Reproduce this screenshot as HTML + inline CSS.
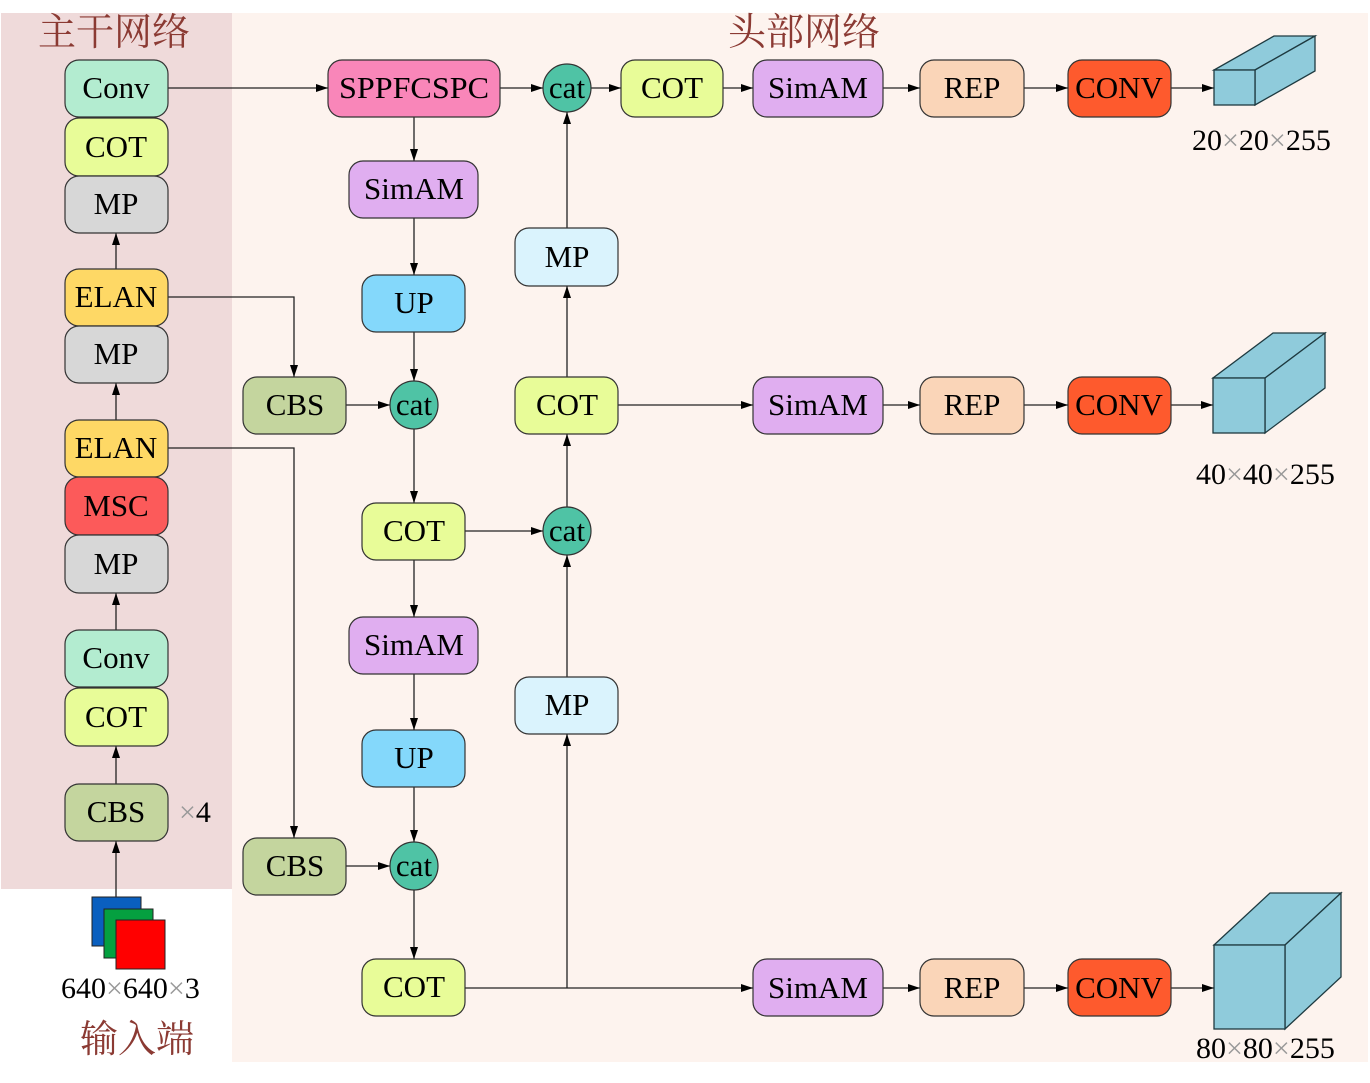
<!DOCTYPE html>
<html><head><meta charset="utf-8">
<style>
html,body{margin:0;padding:0;background:#fff;}
svg{display:block;}
</style></head>
<body>
<svg width="1370" height="1083" viewBox="0 0 1370 1083" xmlns="http://www.w3.org/2000/svg" font-family="'Liberation Serif', 'Times New Roman', serif">
<defs>
<marker id="a" viewBox="0 0 12 8" refX="12" refY="4" markerWidth="12" markerHeight="8" markerUnits="userSpaceOnUse" orient="auto">
<path d="M0,0 L12,4 L0,8 z" fill="#000"/>
</marker>
</defs>
<rect x="0" y="0" width="1370" height="1083" fill="#fff"/>
<rect x="232" y="13" width="1136" height="1049" fill="#fdf3ee"/>
<rect x="1" y="13" width="231" height="876" fill="#efdada"/>

<g font-size="38" fill="#8b3a33" font-family="'Noto Serif CJK SC', 'Noto Sans CJK SC', serif">
<text x="38" y="45">主干网络</text>
<text x="728" y="45">头部网络</text>
<text x="80" y="1052">输入端</text>
</g>

<g stroke="#222" stroke-width="1.3" fill="none">
<line x1="168" y1="88" x2="328" y2="88" marker-end="url(#a)"/>
<line x1="500" y1="88" x2="543" y2="88" marker-end="url(#a)"/>
<line x1="591" y1="88" x2="621" y2="88" marker-end="url(#a)"/>
<line x1="723" y1="88" x2="753" y2="88" marker-end="url(#a)"/>
<line x1="883" y1="88" x2="920" y2="88" marker-end="url(#a)"/>
<line x1="1024" y1="88" x2="1068" y2="88" marker-end="url(#a)"/>
<line x1="1171" y1="88" x2="1214" y2="88" marker-end="url(#a)"/>
<line x1="414" y1="117" x2="414" y2="161" marker-end="url(#a)"/>
<line x1="414" y1="218" x2="414" y2="275" marker-end="url(#a)"/>
<line x1="414" y1="332" x2="414" y2="381" marker-end="url(#a)"/>
<polyline points="168,297 294,297 294,377" marker-end="url(#a)"/>
<line x1="346" y1="405" x2="390" y2="405" marker-end="url(#a)"/>
<line x1="414" y1="429" x2="414" y2="503" marker-end="url(#a)"/>
<line x1="465" y1="531" x2="543" y2="531" marker-end="url(#a)"/>
<line x1="414" y1="560" x2="414" y2="617" marker-end="url(#a)"/>
<line x1="414" y1="674" x2="414" y2="730" marker-end="url(#a)"/>
<line x1="414" y1="787" x2="414" y2="842" marker-end="url(#a)"/>
<polyline points="168,448 294,448 294,838" marker-end="url(#a)"/>
<line x1="346" y1="866" x2="390" y2="866" marker-end="url(#a)"/>
<line x1="414" y1="890" x2="414" y2="959" marker-end="url(#a)"/>
<line x1="465" y1="988" x2="753" y2="988" marker-end="url(#a)"/>
<line x1="567" y1="988" x2="567" y2="734" marker-end="url(#a)"/>
<line x1="567" y1="677" x2="567" y2="555" marker-end="url(#a)"/>
<line x1="567" y1="507" x2="567" y2="434" marker-end="url(#a)"/>
<line x1="567" y1="377" x2="567" y2="286" marker-end="url(#a)"/>
<line x1="567" y1="228" x2="567" y2="112" marker-end="url(#a)"/>
<line x1="618" y1="405" x2="753" y2="405" marker-end="url(#a)"/>
<line x1="883" y1="405" x2="920" y2="405" marker-end="url(#a)"/>
<line x1="1024" y1="405" x2="1068" y2="405" marker-end="url(#a)"/>
<line x1="1171" y1="405" x2="1213" y2="405" marker-end="url(#a)"/>
<line x1="883" y1="988" x2="920" y2="988" marker-end="url(#a)"/>
<line x1="1024" y1="988" x2="1068" y2="988" marker-end="url(#a)"/>
<line x1="1171" y1="988" x2="1214" y2="988" marker-end="url(#a)"/>
<line x1="116" y1="897" x2="116" y2="841" marker-end="url(#a)"/>
<line x1="116" y1="784" x2="116" y2="746" marker-end="url(#a)"/>
<line x1="116" y1="630" x2="116" y2="593" marker-end="url(#a)"/>
<line x1="116" y1="420" x2="116" y2="383" marker-end="url(#a)"/>
<line x1="116" y1="269" x2="116" y2="233" marker-end="url(#a)"/>
</g>

<g stroke="#333" stroke-width="1.2">
<rect x="65" y="60" width="103" height="57" rx="14" fill="#b3ecd0"/>
<rect x="65" y="118" width="103" height="58" rx="14" fill="#e8fc98"/>
<rect x="65" y="176" width="103" height="57" rx="14" fill="#d7d7d7"/>
<rect x="65" y="269" width="103" height="57" rx="14" fill="#fed865"/>
<rect x="65" y="326" width="103" height="57" rx="14" fill="#d7d7d7"/>
<rect x="65" y="420" width="103" height="57" rx="14" fill="#fed865"/>
<rect x="65" y="477" width="103" height="58" rx="14" fill="#fc5a5a"/>
<rect x="65" y="535" width="103" height="58" rx="14" fill="#d7d7d7"/>
<rect x="65" y="630" width="103" height="57" rx="14" fill="#b3ecd0"/>
<rect x="65" y="688" width="103" height="58" rx="14" fill="#e8fc98"/>
<rect x="65" y="784" width="103" height="57" rx="14" fill="#c4d59e"/>
<rect x="328" y="60" width="172" height="57" rx="14" fill="#f986b9"/>
<rect x="349" y="161" width="129" height="57" rx="14" fill="#e0aef0"/>
<rect x="362" y="275" width="103" height="57" rx="14" fill="#84d8fb"/>
<rect x="243" y="377" width="103" height="57" rx="14" fill="#c4d59e"/>
<rect x="362" y="503" width="103" height="57" rx="14" fill="#e8fc98"/>
<rect x="349" y="617" width="129" height="57" rx="14" fill="#e0aef0"/>
<rect x="362" y="730" width="103" height="57" rx="14" fill="#84d8fb"/>
<rect x="243" y="838" width="103" height="57" rx="14" fill="#c4d59e"/>
<rect x="362" y="959" width="103" height="57" rx="14" fill="#e8fc98"/>
<rect x="515" y="228" width="103" height="58" rx="14" fill="#daf3fd"/>
<rect x="515" y="377" width="103" height="57" rx="14" fill="#e8fc98"/>
<rect x="515" y="677" width="103" height="57" rx="14" fill="#daf3fd"/>
<rect x="621" y="60" width="102" height="57" rx="14" fill="#e8fc98"/>
<rect x="753" y="60" width="130" height="57" rx="14" fill="#e0aef0"/>
<rect x="920" y="60" width="104" height="57" rx="14" fill="#fad5b8"/>
<rect x="1068" y="60" width="103" height="57" rx="14" fill="#fe5a2d"/>
<rect x="753" y="377" width="130" height="57" rx="14" fill="#e0aef0"/>
<rect x="920" y="377" width="104" height="57" rx="14" fill="#fad5b8"/>
<rect x="1068" y="377" width="103" height="57" rx="14" fill="#fe5a2d"/>
<rect x="753" y="959" width="130" height="57" rx="14" fill="#e0aef0"/>
<rect x="920" y="959" width="104" height="57" rx="14" fill="#fad5b8"/>
<rect x="1068" y="959" width="103" height="57" rx="14" fill="#fe5a2d"/>
<circle cx="567" cy="88" r="24" fill="#4fc3a5"/>
<circle cx="414" cy="405" r="24" fill="#4fc3a5"/>
<circle cx="567" cy="531" r="24" fill="#4fc3a5"/>
<circle cx="414" cy="866" r="24" fill="#4fc3a5"/>
</g>

<g font-size="31" fill="#000" text-anchor="middle" font-family="'Liberation Serif', serif">
<text x="116" y="98">Conv</text>
<text x="116" y="157">COT</text>
<text x="116" y="214">MP</text>
<text x="116" y="307">ELAN</text>
<text x="116" y="364">MP</text>
<text x="116" y="458">ELAN</text>
<text x="116" y="516">MSC</text>
<text x="116" y="574">MP</text>
<text x="116" y="668">Conv</text>
<text x="116" y="727">COT</text>
<text x="116" y="822">CBS</text>
<text x="414" y="98" textLength="150" lengthAdjust="spacingAndGlyphs">SPPFCSPC</text>
<text x="414" y="199">SimAM</text>
<text x="414" y="313">UP</text>
<text x="295" y="415">CBS</text>
<text x="414" y="541">COT</text>
<text x="414" y="655">SimAM</text>
<text x="414" y="768">UP</text>
<text x="295" y="876">CBS</text>
<text x="414" y="997">COT</text>
<text x="567" y="267">MP</text>
<text x="567" y="415">COT</text>
<text x="567" y="715">MP</text>
<text x="672" y="98">COT</text>
<text x="818" y="98">SimAM</text>
<text x="972" y="98">REP</text>
<text x="1119" y="98">CONV</text>
<text x="818" y="415">SimAM</text>
<text x="972" y="415">REP</text>
<text x="1119" y="415">CONV</text>
<text x="818" y="998">SimAM</text>
<text x="972" y="998">REP</text>
<text x="1119" y="998">CONV</text>
<text x="567" y="98">cat</text>
<text x="414" y="415">cat</text>
<text x="567" y="541">cat</text>
<text x="414" y="876">cat</text>
</g>

<g font-size="30" fill="#000" font-family="'Liberation Serif', serif">
<text x="179" y="822"><tspan fill="#999">×</tspan>4</text>
<text x="61" y="998">640<tspan fill="#999">×</tspan>640<tspan fill="#999">×</tspan>3</text>
<text x="1192" y="150">20<tspan fill="#999">×</tspan>20<tspan fill="#999">×</tspan>255</text>
<text x="1196" y="484">40<tspan fill="#999">×</tspan>40<tspan fill="#999">×</tspan>255</text>
<text x="1196" y="1058">80<tspan fill="#999">×</tspan>80<tspan fill="#999">×</tspan>255</text>
</g>

<g stroke="#222" stroke-width="1">
<rect x="92" y="897" width="49" height="49" fill="#0a5fbf"/>
<rect x="104" y="909" width="49" height="49" fill="#05a040"/>
<rect x="116" y="920" width="49" height="49" fill="#ff0000"/>
</g>

<g stroke="#1e3a40" stroke-width="1.3" fill="#8fcbdb">
<polygon points="1214,70 1255,70 1315,36 1274,36"/>
<polygon points="1255,70 1315,36 1315,71 1255,105"/>
<rect x="1214" y="70" width="41" height="35"/>
<polygon points="1213,378 1265,378 1325,333 1273,333"/>
<polygon points="1265,378 1325,333 1325,388 1265,433"/>
<rect x="1213" y="378" width="52" height="55"/>
<polygon points="1214,945 1285,945 1341,893 1270,893"/>
<polygon points="1285,945 1341,893 1341,977 1285,1029"/>
<rect x="1214" y="945" width="71" height="84"/>
</g>
</svg>
</body></html>
